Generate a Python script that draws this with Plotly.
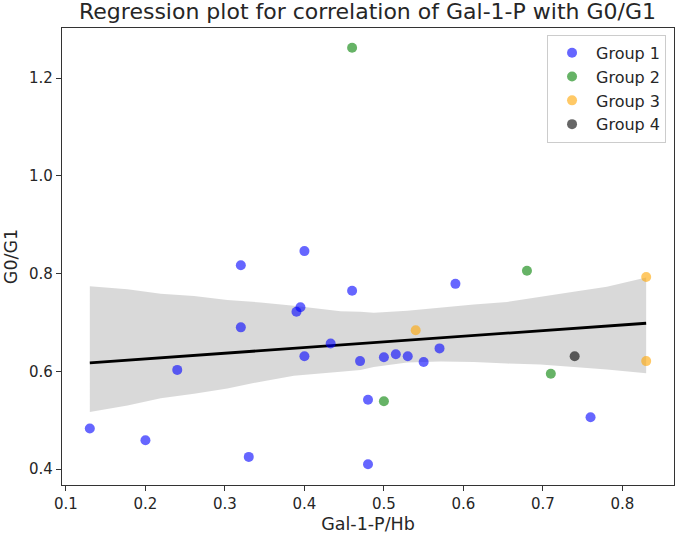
import numpy as np
import plotly.graph_objects as go

# ---- data ----
g1_x = [0.13, 0.20, 0.24, 0.32, 0.32, 0.33, 0.40, 0.395, 0.39, 0.40, 0.433, 0.46,
        0.47, 0.48, 0.48, 0.50, 0.515, 0.53, 0.55, 0.57, 0.59, 0.76]
g1_y = [0.483, 0.459, 0.603, 0.817, 0.690, 0.425, 0.846, 0.731, 0.722, 0.631, 0.657, 0.765,
        0.621, 0.542, 0.410, 0.629, 0.635, 0.631, 0.619, 0.647, 0.779, 0.506]
g2_x = [0.46, 0.68, 0.50, 0.71]
g2_y = [1.262, 0.806, 0.539, 0.595]
g3_x = [0.54, 0.83, 0.83]
g3_y = [0.684, 0.793, 0.621]
g4_x = [0.74]
g4_y = [0.631]

# confidence band of the regression
band_x = [0.13, 0.1775, 0.2193, 0.2612, 0.3031, 0.345, 0.3868, 0.4455, 0.4706,
          0.4873, 0.5293, 0.5711, 0.613, 0.6549, 0.6967, 0.7386, 0.7805, 0.83]
band_upper = [0.774, 0.768, 0.759, 0.754, 0.746, 0.741, 0.734, 0.723, 0.722,
              0.720, 0.724, 0.731, 0.737, 0.742, 0.753, 0.763, 0.773, 0.792]
band_lower = [0.517, 0.530, 0.545, 0.554, 0.565, 0.579, 0.591, 0.599, 0.603,
              0.609, 0.618, 0.620, 0.619, 0.616, 0.614, 0.609, 0.604, 0.596]

groups = [
    ("Group 1", g1_x, g1_y, "rgba(0,0,255,0.6)"),
    ("Group 2", g2_x, g2_y, "rgba(0,128,0,0.6)"),
    ("Group 3", g3_x, g3_y, "rgba(255,165,0,0.6)"),
    ("Group 4", g4_x, g4_y, "rgba(0,0,0,0.6)"),
]

title = "Regression plot for correlation of Gal-1-P with G0/G1"
x_label = "Gal-1-P/Hb"
y_label = "G0/G1"
x_ticks = [0.1, 0.2, 0.3, 0.4, 0.5, 0.6, 0.7, 0.8]
y_ticks = [0.4, 0.6, 0.8, 1.0, 1.2]

# ---- least-squares regression line over all points ----
all_x = np.array(g1_x + g2_x + g3_x + g4_x)
all_y = np.array(g1_y + g2_y + g3_y + g4_y)
slope, intercept = np.polyfit(all_x, all_y, 1)
line_x = np.array([all_x.min(), all_x.max()])
line_y = intercept + slope * line_x

fig = go.Figure()
fig.add_trace(go.Scatter(
    x=band_x + band_x[::-1], y=band_upper + band_lower[::-1],
    fill="toself", fillcolor="rgba(0,0,0,0.15)", line=dict(width=0),
    mode="lines", showlegend=False, hoverinfo="skip"))
fig.add_trace(go.Scatter(x=line_x, y=line_y, mode="lines",
                         line=dict(color="black", width=2.8), showlegend=False))
for name, xs, ys, col in groups:
    fig.add_trace(go.Scatter(x=xs, y=ys, mode="markers", name=name,
                             marker=dict(color=col, size=10, line=dict(width=0))))

font = "DejaVu Sans"
fig.update_layout(
    width=679, height=534,
    margin=dict(l=62, r=5, t=28, b=49),
    paper_bgcolor="white", plot_bgcolor="white",
    font=dict(family=font, size=15, color="#262626"),
    title=dict(text=title, x=367.5 / 679, xanchor="center",
               y=1 - 11.5 / 534, yanchor="middle", font=dict(size=22, color="#262626")),
    xaxis=dict(range=[0.095, 0.865], tickvals=x_ticks, ticktext=[f"{v:.1f}" for v in x_ticks],
               showgrid=False, zeroline=False, showline=True, linecolor="#333", linewidth=1.2,
               mirror=True, ticks="outside", ticklen=5, tickcolor="#333",
               title=dict(text=x_label, standoff=5, font=dict(size=17.5))),
    yaxis=dict(range=[0.3675, 1.3025], tickvals=y_ticks, ticktext=[f"{v:.1f}" for v in y_ticks],
               showgrid=False, zeroline=False, showline=True, linecolor="#333", linewidth=1.2,
               mirror=True, ticks="outside", ticklen=5, tickcolor="#333",
               title=dict(text=y_label, standoff=6, font=dict(size=17.5))),
    legend=dict(x=0.987, y=0.985, xanchor="right", yanchor="top",
                bgcolor="rgba(255,255,255,0.8)", bordercolor="#cccccc", borderwidth=1,
                font=dict(size=16), itemwidth=38, tracegroupgap=0),
)
fig.write_html("out.html")
